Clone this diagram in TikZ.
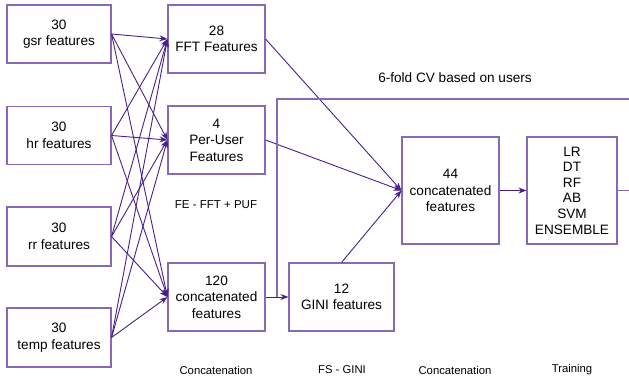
\documentclass[tikz,border=0pt]{standalone}
\usepackage{fontspec}
\setmainfont{Liberation Sans}
\usetikzlibrary{arrows.meta}
\definecolor{boxc}{RGB}{135,105,185}
\definecolor{linec}{RGB}{72,32,138}
\tikzset{
  box/.style={draw=boxc, line width=1.1pt, inner sep=0pt, align=center,
    font=\fontsize{13.6}{16.5}\selectfont},
  conn/.style={draw=linec, line width=0.9pt, -{Stealth[length=8pt,width=6pt]}},
  plain/.style={draw=linec, line width=0.9pt},
  frame/.style={draw=boxc, line width=1.1pt},
  lbl/.style={font=\fontsize{11.3}{13}\selectfont, inner sep=0pt},
}
\begin{document}
\begin{tikzpicture}[x=1pt,y=-1pt]
\useasboundingbox (0,0) rectangle (629,381);
% source boxes
\node[box, minimum width=104pt, minimum height=58pt] (gsr) at (59,34) {30\\gsr features};
\node[box, minimum width=104pt, minimum height=58pt] (hr) at (59,135.5) {30\\hr features};
\node[box, minimum width=104pt, minimum height=59pt] (rr) at (59,236.5) {30\\rr features};
\node[box, minimum width=104pt, minimum height=59pt] (temp) at (59,337.5) {30\\temp features};
% second column
\node[box, minimum width=97pt, minimum height=68pt] (fft) at (216.5,39) {28\\FFT Features};
\node[box, minimum width=97pt, minimum height=68pt] (puf) at (216.5,140) {4\\Per-User\\Features};
\node[box, minimum width=97pt, minimum height=68pt] (c120) at (216.5,297) {120\\concatenated\\features};
% later
\node[box, minimum width=105pt, minimum height=68pt] (gini) at (341.5,297) {12\\GINI features};
\node[box, minimum width=97pt, minimum height=107pt] (c44) at (450.5,190.5) {44\\concatenated\\features};
\node[box, minimum width=90pt, minimum height=107pt, font=\fontsize{13.6}{15.6}\selectfont] (models) at (572,190.5) {LR\\DT\\RF\\AB\\SVM\\ENSEMBLE};
% labels
\node[lbl, font=\fontsize{13.6}{16}\selectfont] (cv) at (455,78) {6-fold CV based on users};
\node[lbl, font=\fontsize{11.5}{13}\selectfont] (fe) at (216,205) {FE - FFT + PUF};
\node[lbl] (l1) at (216,370) {Concatenation};
\node[lbl] (l2) at (342,370) {FS - GINI};
\node[lbl] (l3) at (455,370) {Concatenation};
\node[lbl] (l4) at (572,370) {Training};
% fan-out arrows
\foreach \s in {gsr,hr,rr,temp}{
  \foreach \t in {fft,puf,c120}{
    \draw[conn] (\s.east) -- (\t.west);
  }
}
% into 44
\draw[conn] (fft.east) -- (c44.west);
\draw[conn] (puf.east) -- (c44.west);
\draw[conn] (gini.north) -- (c44.west);
\draw[conn] (c44.east) -- (models.west);
% frame
\coordinate (fb) at (277,297);
\coordinate (ft) at (277,99);
\coordinate (fr) at (629,99);
\draw[frame] (fb) -- (ft) -- (fr);
\draw[conn] (c120.east) -- (gini.west);
\coordinate (mo) at (629,190.5);
\draw[frame] (models.east) -- (mo);
\end{tikzpicture}
\end{document}
